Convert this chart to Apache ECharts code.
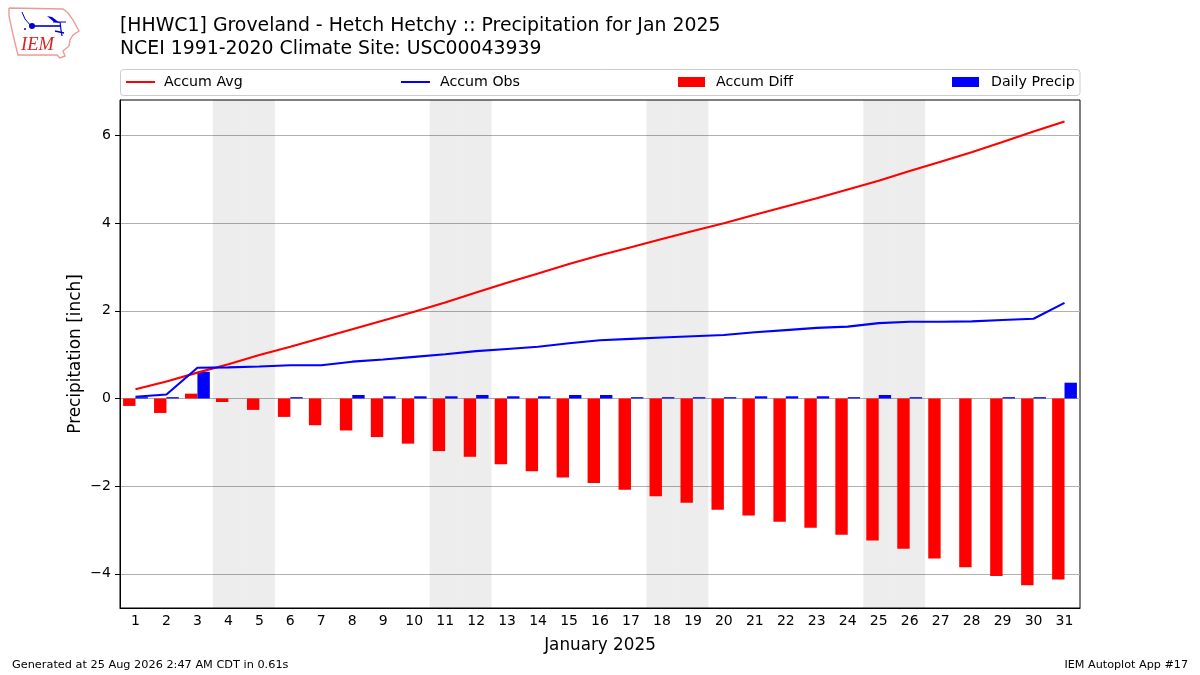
<!DOCTYPE html>
<html><head><meta charset="utf-8">
<style>html,body{margin:0;padding:0;background:#fff}#c{width:1200px;height:675px}</style>
<script src="https://cdn.jsdelivr.net/npm/echarts@6/dist/echarts.min.js"></script>
</head><body><div id="c"></div>
<script>
const days = ['1','2','3','4','5','6','7','8','9','10','11','12','13','14','15','16','17','18','19','20','21','22','23','24','25','26','27','28','29','30','31'];
const accumAvg = [0.21,0.39,0.59,0.78,0.99,1.18,1.38,1.58,1.78,1.98,2.19,2.42,2.64,2.85,3.07,3.27,3.45,3.64,3.82,4.00,4.19,4.38,4.57,4.77,4.97,5.19,5.40,5.62,5.85,6.09,6.32];
const accumObs = [0.04,0.09,0.70,0.71,0.73,0.76,0.76,0.84,0.89,0.95,1.01,1.08,1.13,1.18,1.26,1.33,1.36,1.39,1.42,1.45,1.51,1.56,1.61,1.64,1.72,1.75,1.75,1.76,1.79,1.82,2.18];
const accumDiff = [-0.17,-0.33,0.11,-0.08,-0.26,-0.42,-0.61,-0.73,-0.88,-1.03,-1.20,-1.33,-1.50,-1.66,-1.80,-1.93,-2.08,-2.23,-2.38,-2.54,-2.67,-2.81,-2.95,-3.11,-3.24,-3.43,-3.65,-3.85,-4.05,-4.26,-4.13];
const dailyPrecip = [0.03,0.03,0.61,0,0,0.03,0,0.08,0.05,0.05,0.05,0.08,0.05,0.05,0.08,0.08,0.03,0.03,0.03,0.03,0.05,0.05,0.05,0.03,0.08,0.03,0,0,0.03,0.03,0.36];
const weekend = [0,0,0,1,1,0,0,0,0,0,1,1,0,0,0,0,0,1,1,0,0,0,0,0,1,1,0,0,0,0,0];
const yTicks = [-4,-2,0,2,4,6];
const FONT = '"DejaVu Sans"';
const legendItem = (name, left, w, h, pad) => ({
  show:true, data:[{name, icon:'rect'}], left, top:75, orient:'horizontal', padding:0,
  itemWidth:w, itemHeight:h, itemGap:0, selectedMode:false, itemStyle:{borderWidth:0},lineStyle:{width:0},
  textStyle:{fontFamily:FONT,fontSize:14.2,color:'#000',padding:[0,0,0,pad]}
});
const chart = echarts.init(document.getElementById('c'), null, {renderer:'canvas'});
chart.setOption({
  animation:false,
  backgroundColor:'#fff',
  textStyle:{fontFamily:FONT},
  title:[
    {text:'[HHWC1] Groveland - Hetch Hetchy :: Precipitation for Jan 2025\nNCEI 1991-2020 Climate Site: USC00043939',left:120,top:15,padding:0,
     textStyle:{fontFamily:FONT,fontSize:18.87,fontWeight:'normal',color:'#000',lineHeight:23}},
    {text:'Generated at 25 Aug 2026 2:47 AM CDT in 0.61s',left:12,top:660,padding:0,textStyle:{fontFamily:FONT,fontSize:11.3,fontWeight:'normal',color:'#000'}},
    {text:'IEM Autoplot App #17',right:12,top:660,padding:0,textStyle:{fontFamily:FONT,fontSize:11.2,fontWeight:'normal',color:'#000'}}
  ],
  legend:[legendItem('Accum Avg',126,29,2,4),legendItem('Accum Obs',401,29,2,5),legendItem('Accum Diff',678,27,10,6),legendItem('Daily Precip',952,27,10,7)],
  grid:{left:120,right:120,top:100,bottom:67,show:true,borderColor:'#000',borderWidth:1,backgroundColor:'transparent'},
  xAxis:[
    {type:'category',data:days,boundaryGap:true,name:'January 2025',nameLocation:'middle',nameGap:29,
     nameTextStyle:{fontFamily:FONT,fontSize:16.8,color:'#000'},
     axisLine:{onZero:false,lineStyle:{color:'#000',width:1}},
     axisTick:{alignWithLabel:true,length:5,lineStyle:{color:'#000'}},
     axisLabel:{interval:0,margin:6,fontFamily:FONT,fontSize:14,color:'#000'},splitLine:{show:false}},
    {type:'category',data:days,show:false,gridIndex:0}
  ],
  yAxis:[
    {type:'value',min:-4.78,max:6.81,name:'Precipitation [inch]',nameLocation:'middle',nameGap:36,nameMoveOverlap:false,
     nameTextStyle:{fontFamily:FONT,fontSize:16.9,color:'#000'},
     axisLine:{show:true,onZero:false,lineStyle:{color:'#000'}},
     axisTick:{show:true,length:5,lineStyle:{color:'#000'},customValues:yTicks},
     axisLabel:{margin:9,fontFamily:FONT,fontSize:14,color:'#000',customValues:yTicks,formatter:v=>String(v).replace('-','\u2212')},
     splitLine:{show:true,lineStyle:{color:'#b0b0b0',width:1}}},
    {type:'value',min:0,max:1,show:false,splitLine:{show:false}}
  ],
  series:[
    {name:'Weekend',type:'bar',xAxisIndex:1,yAxisIndex:1,data:weekend,barWidth:'100%',silent:true,z:1,itemStyle:{color:'rgba(0,0,0,0.07)'}},
    {name:'Accum Diff',type:'bar',data:accumDiff,barWidth:12.4,barGap:'0%',z:3,itemStyle:{color:'#ff0000'}},
    {name:'Daily Precip',type:'bar',data:dailyPrecip,barWidth:12.4,barGap:'0%',z:3,itemStyle:{color:'#0000ff'}},
    {name:'Accum Avg',type:'line',data:accumAvg,symbol:'none',z:4,lineStyle:{color:'#ff0000',width:2.1},itemStyle:{color:'#ff0000'}},
    {name:'Accum Obs',type:'line',data:accumObs,symbol:'none',z:4,lineStyle:{color:'#0000ff',width:2.1},itemStyle:{color:'#0000ff'}}
  ],
  graphic:[
    {type:'rect',z:-1,shape:{x:120.5,y:69.5,width:959.5,height:26,r:3},style:{fill:'#fff',stroke:'#ccc',lineWidth:1}},
    {type:'polyline',z:10,shape:{points:[[9,8],[63,9],[68,13],[73,20],[79,31],[73,35],[70,40],[69,46],[63,51],[65,56],[60,58],[57,55],[18,55],[15,43],[12,30],[9,16],[9,8]]},style:{fill:'none',stroke:'#ee9999',lineWidth:1.4}},
    {type:'text',z:10,x:21,y:36,style:{text:'IEM',fontFamily:'"Liberation Serif"',fontStyle:'italic',fontSize:18.5,fill:'#d22'}},
    {type:'polyline',z:10,shape:{points:[[32,26],[60,26]]},style:{stroke:'#00c',lineWidth:1.6}},
    {type:'polyline',z:10,shape:{points:[[22,12],[25,19],[31,26]]},style:{stroke:'#00c',lineWidth:1,fill:'none'}},
    {type:'circle',z:10,shape:{cx:32,cy:26,r:3},style:{fill:'#00c'}},
    {type:'circle',z:10,shape:{cx:25,cy:29,r:1},style:{fill:'#00c'}},
    {type:'polygon',z:10,shape:{points:[[47,16],[52,17],[60,23],[54,22]]},style:{fill:'#00c'}},
    {type:'polyline',z:10,shape:{points:[[60,22],[61,30],[62,36]]},style:{stroke:'#00c',lineWidth:1.2,fill:'none'}},
    {type:'polyline',z:10,shape:{points:[[53,22],[66,22]]},style:{stroke:'#00c',lineWidth:1}},
    {type:'polyline',z:10,shape:{points:[[55,31],[64,33]]},style:{stroke:'#00c',lineWidth:1.4}}
  ]
});
</script></body></html>
